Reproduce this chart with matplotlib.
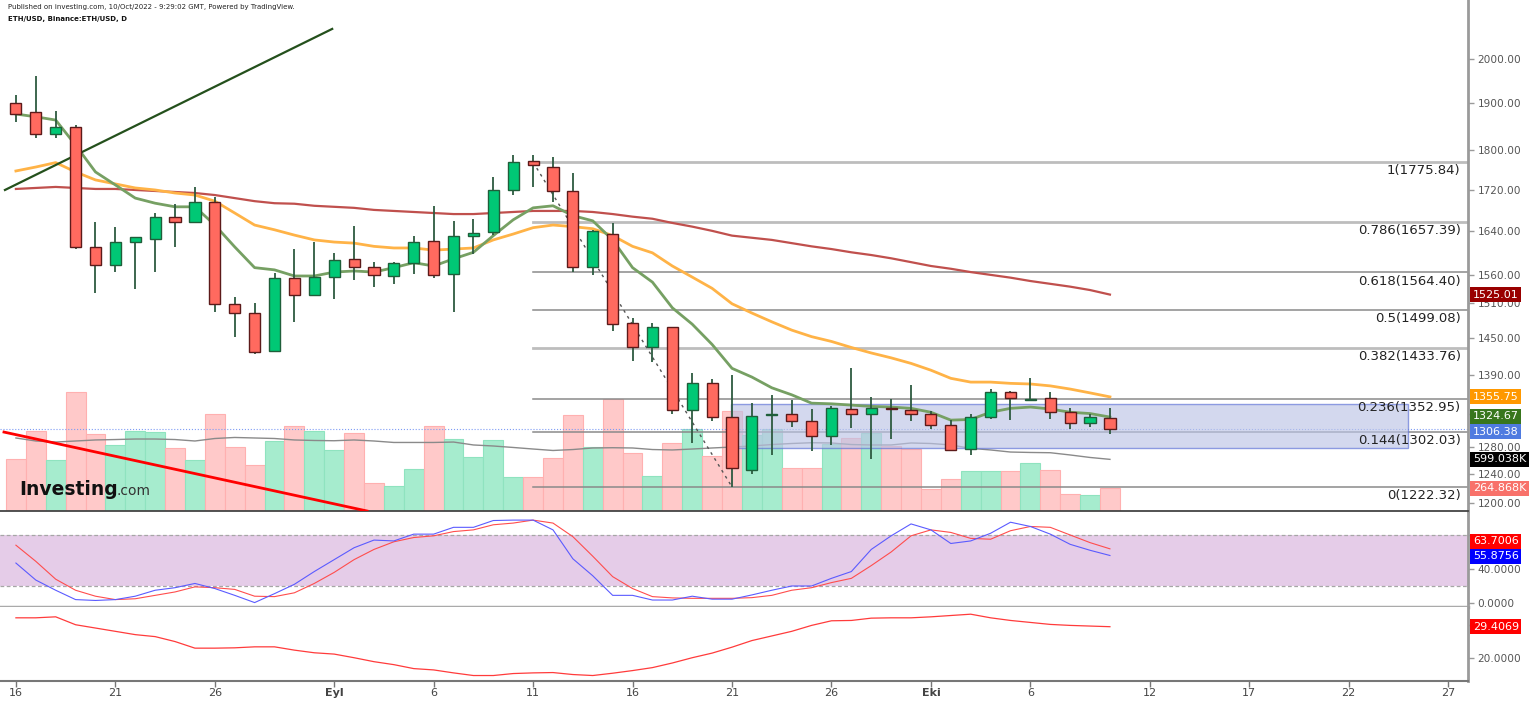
import numpy as np
import pandas as pd
import matplotlib
matplotlib.use("Agg")
import matplotlib.pyplot as plt
from matplotlib.patches import Rectangle
from matplotlib.ticker import FixedLocator, FixedFormatter, NullLocator

plt.rcParams['font.family'] = ['DejaVu Sans']

# ---- data (ETH/USD daily, 16 Aug - 10 Oct 2022) ----
start_date = "2022-08-16"
opens = [1900, 1881, 1835, 1849, 1610, 1577, 1620, 1626, 1668, 1657, 1696, 1509, 1493, 1430, 1554, 1524,
         1556, 1588, 1575, 1558, 1581, 1622, 1561, 1632, 1638, 1720, 1778, 1766, 1718, 1575, 1635, 1476,
         1435, 1470, 1335, 1377, 1325, 1247, 1328, 1329, 1318, 1296, 1337, 1329, 1339, 1336, 1329, 1313,
         1277, 1324, 1363, 1351, 1354, 1332, 1316, 1323]
highs = [1918, 1960, 1884, 1853, 1657, 1648, 1629, 1676, 1693, 1725, 1706, 1520, 1510, 1563, 1607, 1620,
         1599, 1650, 1583, 1583, 1631, 1689, 1659, 1663, 1746, 1790, 1790, 1786, 1754, 1642, 1655, 1484,
         1476, 1470, 1393, 1384, 1390, 1347, 1359, 1351, 1337, 1342, 1401, 1355, 1353, 1374, 1334, 1320,
         1330, 1368, 1365, 1386, 1364, 1338, 1330, 1339]
lows = [1859, 1825, 1825, 1607, 1527, 1566, 1534, 1566, 1610, 1657, 1494, 1452, 1425, 1427, 1478, 1522,
        1518, 1551, 1538, 1544, 1561, 1555, 1495, 1598, 1634, 1711, 1725, 1697, 1565, 1559, 1463, 1413,
        1411, 1329, 1286, 1318, 1222.32, 1241, 1268, 1310, 1274, 1283, 1308, 1263, 1292, 1319, 1306, 1275,
        1268, 1321, 1320, 1351, 1321, 1307, 1310, 1299]
closes = [1878, 1835, 1849, 1610, 1577, 1620, 1629, 1668, 1657, 1696, 1509, 1493, 1428, 1554, 1524, 1556,
          1586, 1575, 1560, 1581, 1620, 1559, 1631, 1637, 1720, 1777, 1770, 1718, 1575, 1640, 1474, 1435,
          1470, 1335, 1377, 1325, 1249, 1327, 1329, 1318, 1296, 1338, 1329, 1338, 1337, 1330, 1313, 1276,
          1324, 1363, 1354, 1353, 1332, 1316, 1324, 1306.38]
volume_k = [600, 928, 592, 1377, 893, 766, 928, 916, 731, 592, 1122, 742, 534, 812, 986, 928, 708, 905,
            321, 290, 491, 986, 832, 626, 824, 398, 398, 615, 1114, 742, 1303, 673, 410, 789, 951, 638,
            1164, 882, 951, 499, 499, 777, 847, 905, 754, 719, 259, 368, 468, 468, 468, 557, 479, 197,
            186, 264.868]
volume_ma_k = [847, 812, 800, 812, 824, 829, 835, 835, 829, 812, 841, 853, 847, 841, 824, 818, 815, 824,
               812, 795, 795, 795, 800, 766, 754, 737, 719, 702, 713, 731, 734, 731, 713, 708, 719, 731,
               742, 754, 771, 783, 792, 789, 771, 766, 766, 789, 783, 766, 727, 708, 684, 679, 676, 650,
               621, 599.038]
ma_green = [1877, 1871, 1864, 1811, 1756, 1730, 1704, 1694, 1687, 1687, 1652, 1611, 1573, 1569, 1558, 1558,
            1565, 1567, 1565, 1573, 1582, 1576, 1589, 1601, 1632, 1662, 1685, 1689, 1670, 1660, 1624, 1573,
            1547, 1502, 1474, 1440, 1401, 1387, 1370, 1359, 1346, 1345, 1343, 1341, 1340, 1338, 1332, 1320,
            1321, 1332, 1338, 1340, 1337, 1332, 1330, 1324.67]
ma_orange = [1758, 1766, 1775, 1756, 1740, 1732, 1724, 1720, 1714, 1710, 1698, 1675, 1652, 1643, 1633, 1624,
             1620, 1618, 1612, 1609, 1609, 1605, 1607, 1609, 1624, 1635, 1647, 1652, 1649, 1645, 1632, 1612,
             1600, 1576, 1556, 1536, 1509, 1493, 1478, 1464, 1453, 1445, 1435, 1426, 1418, 1409, 1398, 1385,
             1379, 1379, 1377, 1376, 1373, 1368, 1362, 1355.75]
ma_red = [1722, 1724, 1726, 1724, 1722, 1722, 1720, 1718, 1716, 1714, 1710, 1704, 1698, 1694, 1693, 1689,
          1687, 1685, 1681, 1679, 1677, 1675, 1673, 1673, 1675, 1677, 1679, 1679, 1679, 1677, 1673, 1668,
          1664, 1656, 1649, 1641, 1632, 1628, 1624, 1618, 1612, 1607, 1601, 1596, 1590, 1583, 1576, 1571,
          1565, 1560, 1555, 1549, 1544, 1539, 1533, 1525.01]
stoch_k = [47, 27, 15, 4, 3, 4, 8, 15, 18, 23, 17, 9, 0.5, 11, 22, 37, 51, 65, 74, 73, 81, 81, 89, 89, 97,
           97.5, 97.5, 86, 52, 32, 9, 9, 3.5, 3.5, 8, 4.5, 4.5, 9.5, 15, 20, 20, 29, 37, 63, 79, 93, 86, 70,
           73, 82, 95, 90, 81, 69, 62, 55.8756]
stoch_d = [68, 49, 28, 15, 8, 4, 5, 9, 13, 19, 18, 16, 8, 7.5, 12, 23, 36, 51, 63, 72, 77, 79, 84, 86, 92,
           94, 97.5, 94, 78, 55, 31, 17, 7.5, 6, 5.5, 5.5, 5.5, 6.3, 9, 15, 18, 24, 29, 44, 60, 79, 86, 83,
           76, 75, 85, 90, 89, 80, 71, 63.7006]
lower_osc = [32.1, 32.1, 32.4, 30.0, 29.0, 28.0, 27.0, 26.4, 24.9, 22.9, 22.9, 23.0, 23.3, 23.3, 22.3, 21.5,
             21.1, 20.0, 18.8, 17.9, 16.7, 16.3, 15.4, 14.6, 14.6, 15.2, 15.4, 15.5, 14.9, 14.6, 15.3, 16.1,
             17.0, 18.4, 20.0, 21.4, 23.2, 25.2, 26.6, 28.0, 29.8, 31.2, 31.3, 32.0, 32.1, 32.1, 32.4, 32.8,
             33.2, 32.1, 31.3, 30.7, 30.1, 29.8, 29.6, 29.4069]

fib_ratios = ["1", "0.786", "0.618", "0.5", "0.382", "0.236", "0.144", "0"]
fib_prices = [1775.84, 1657.39, 1564.40, 1499.08, 1433.76, 1352.95, 1302.03, 1222.32]
fib_start = "2022-09-11"
fib_end_low = "2022-09-21"
box_dates = ["2022-09-21", "2022-10-25"]
box_prices = [1278, 1345]
green_trend_x = [-0.55, 15.9]
green_trend_y = [1720, 2070]
red_trend_x = [-0.6, 17.65]
red_trend_y = [1302, 1189]

tick_dates = ["2022-08-16", "2022-08-21", "2022-08-26", "2022-09-01", "2022-09-06", "2022-09-11",
              "2022-09-16", "2022-09-21", "2022-09-26", "2022-10-01", "2022-10-06", "2022-10-12",
              "2022-10-17", "2022-10-22", "2022-10-27"]
tick_labels = ["16", "21", "26", "Eyl", "6", "11", "16", "21", "26", "Eki", "6", "12", "17", "22", "27"]
price_ticks = [1200, 1240, 1280, 1330, 1390, 1450, 1510, 1560, 1640, 1720, 1800, 1900, 2000]
hidden_price_ticks = [1330]   # covered by the value tags in the original

t0 = pd.Timestamp(start_date)
def day(d):
    return (pd.Timestamp(d) - t0).days

o = np.array(opens, float); h = np.array(highs, float)
l = np.array(lows, float); c = np.array(closes, float)
x = np.arange(len(o))
up = c >= o

W, H = 1539, 702
fig = plt.figure(figsize=(W / 100, H / 100), dpi=100)
left, width = 0.0, 1468 / W
ax = fig.add_axes([left, 1 - 511 / H, width, 511 / H])
axv = ax.twinx()
ax_st = fig.add_axes([left, 1 - 607 / H, width, 96 / H], sharex=ax)
ax_lo = fig.add_axes([left, 1 - 681 / H, width, 74 / H], sharex=ax)
ax.set_zorder(axv.get_zorder() + 1)
ax.patch.set_visible(False)

AXC = '#9a9a9a'
for a in (ax, axv, ax_st, ax_lo):
    for s in a.spines.values():
        s.set_visible(False)
for a in (ax, ax_st, ax_lo):
    a.spines['right'].set_visible(True)
    a.spines['right'].set_color(AXC)
    a.spines['right'].set_linewidth(2)
ax.spines['bottom'].set_visible(True)
ax.spines['bottom'].set_color('#444444')
ax.spines['bottom'].set_linewidth(1.3)
ax_st.spines['bottom'].set_visible(True)
ax_st.spines['bottom'].set_color('#aaaaaa')
ax_st.spines['bottom'].set_linewidth(2.5)
ax_lo.spines['bottom'].set_visible(True)
ax_lo.spines['bottom'].set_color('#777777')
ax_lo.spines['bottom'].set_linewidth(1.5)

# ---- volume ----
vol_up = np.array(['#a6ecce' if u else '#ffc9c9' for u in up])
vol_edge = np.array(['#8fe3bf' if u else '#ffb0b0' for u in up])
axv.bar(x, volume_k, width=1.0, color=vol_up, edgecolor=vol_edge, linewidth=0.8)
axv.plot(x, volume_ma_k, color='#8a8a8a', lw=1.0)
axv.set_ylim(0, 511 * 11.6)
axv.set_yticks([])

# ---- price panel ----
ax.set_yscale('log')
ax.set_ylim(1189, 2140)
ax.set_xlim(-0.8, 73.0)

xf0, xf1 = day(fib_start), day(fib_end_low)
for r, p in zip(fib_ratios, fib_prices):
    light = r in ("1", "0.786", "0.382")
    ax.plot([xf0, 73.0], [p, p], color='#bdbdbd' if light else '#8a8a8a', lw=2.0 if light else 1.1, zorder=2)
    ax.annotate(f"{r}({p:.2f})", xy=(0.995, p), xycoords=('axes fraction', 'data'),
                xytext=(0, -1.5), textcoords='offset points', ha='right', va='top',
                fontsize=9.5, color='#222222', zorder=8)
ax.plot([xf0, xf1], [fib_prices[0], fib_prices[-1]], color='#555555', lw=1, ls=(0, (2, 3)), zorder=3)

bx0, bx1 = day(box_dates[0]) - 0.05, day(box_dates[1])
ax.add_patch(Rectangle((bx0, box_prices[0]), bx1 - bx0, box_prices[1] - box_prices[0],
                       facecolor='#bcc4e6', alpha=0.65, edgecolor='#5b6fd6', lw=1.0, zorder=3))
ax.axhline(c[-1], color='#7f9cf5', ls=':', lw=0.8, zorder=2)

ax.plot(x, ma_red, color='#c0504d', lw=1.6, zorder=4)
ax.plot(x, ma_orange, color='#ffb347', lw=2.0, zorder=4)
ax.plot(x, ma_green, color='#76a063', lw=2.0, zorder=4)

ax.plot(green_trend_x, green_trend_y, color='#24501c', lw=1.6, zorder=4)
ax.plot(red_trend_x, red_trend_y, color='#ff0000', lw=2.0, zorder=4)

ax.vlines(x, l, h, color='#2d5a40', lw=1.3, zorder=5)
ax.bar(x, np.abs(c - o), bottom=np.minimum(o, c), width=0.56,
       color=np.where(up, '#00c875', '#ff6a5f'), edgecolor=np.where(up, '#1f5e3a', '#5c1a1a'),
       linewidth=1.0, zorder=6)

ax.yaxis.tick_right()
ax.yaxis.set_major_locator(FixedLocator(price_ticks))
ax.yaxis.set_major_formatter(FixedFormatter(
    ["" if v in hidden_price_ticks else f"{v:.2f}" for v in price_ticks]))
ax.yaxis.set_minor_locator(NullLocator())
ax.tick_params(axis='y', which='major', direction='out', length=4, width=1, color=AXC,
               labelsize=7.6, labelcolor='#555555', pad=3)
ax.tick_params(axis='x', which='both', bottom=False, labelbottom=False)

def tag(a, y, text, color, ytrans=None, dy=0):
    a.annotate(text, xy=(1.0, y), xycoords=(a.transAxes, ytrans if ytrans is not None else a.transData),
               xytext=(3.5, dy), textcoords='offset points', ha='left', va='center', fontsize=8,
               color='white', zorder=20, annotation_clip=False,
               bbox=dict(boxstyle='square,pad=0.22', fc=color, ec='none'))

tag(ax, ma_red[-1], f"{ma_red[-1]:.2f}", '#990000')
tag(ax, ma_orange[-1], f"{ma_orange[-1]:.2f}", '#ff9800')
tag(ax, ma_green[-1], f"{ma_green[-1]:.2f}", '#38761d', dy=0.5)
tag(ax, c[-1], f"{c[-1]:.2f}", '#4f7be0', dy=-2)
tag(ax, volume_ma_k[-1], f"{volume_ma_k[-1]:.3f}K", '#000000', ytrans=axv.transData)
tag(ax, volume_k[-1], f"{volume_k[-1]:.3f}K", '#f8716a', ytrans=axv.transData)

# ---- stochastic panel ----
ax_st.axhspan(20, 80, color='#e5cce8', lw=0, zorder=1)
for lvl in (20, 80):
    ax_st.axhline(lvl, color='#a6a6a6', lw=0.9, ls=(0, (3, 2)), zorder=2)
ax_st.plot(x, stoch_d, color='#ff4d4d', lw=0.8, zorder=3)
ax_st.plot(x, stoch_k, color='#5b5bff', lw=0.8, zorder=3)
ax_st.set_ylim(-4.7, 108.2)
ax_st.yaxis.tick_right()
ax_st.set_yticks([0, 40, 80])
ax_st.set_yticklabels(["0.0000", "40.0000", ""])
ax_st.tick_params(axis='y', direction='out', length=4, width=1, color=AXC,
                  labelsize=7.6, labelcolor='#555555', pad=3)
ax_st.tick_params(axis='x', which='both', bottom=False, labelbottom=False)
tag(ax_st, stoch_d[-1], f"{stoch_d[-1]:.4f}", '#ff0000', dy=5.5)
tag(ax_st, stoch_k[-1], f"{stoch_k[-1]:.4f}", '#0000ff', dy=-0.5)

# ---- lower oscillator panel ----
ax_lo.plot(x, lower_osc, color='#ff3b3b', lw=0.9)
ax_lo.set_ylim(12.94, 35.38)
ax_lo.yaxis.tick_right()
ax_lo.set_yticks([20, 30])
ax_lo.set_yticklabels(["20.0000", ""])
ax_lo.tick_params(axis='y', direction='out', length=4, width=1, color=AXC,
                  labelsize=7.6, labelcolor='#555555', pad=3)
tag(ax_lo, lower_osc[-1], f"{lower_osc[-1]:.4f}", '#ff0000')

ax_lo.set_xticks([day(d) for d in tick_dates])
ax_lo.set_xticklabels(tick_labels)
ax_lo.tick_params(axis='x', direction='out', length=4, width=1, color='#777777',
                  labelsize=8, labelcolor='#444444', pad=1)
for lab in ax_lo.get_xticklabels():
    if lab.get_text() in ("Eyl", "Eki"):
        lab.set_fontweight('bold')

# ---- header and logo ----
fig.text(8 / W, 1 - 7 / H, "Published on investing.com, 10/Oct/2022 - 9:29:02 GMT, Powered by TradingView.",
         fontsize=5, color='#222222', va='center', ha='left')
fig.text(8 / W, 1 - 19 / H, "ETH/USD, Binance:ETH/USD, D", fontsize=5, fontweight='bold',
         color='#111111', va='center', ha='left')
fig.text(19 / W, 1 - 495 / H, "Investing", fontsize=13.5, fontweight='bold', color='#111111',
         va='baseline', ha='left', zorder=30)
fig.text(117 / W, 1 - 495 / H, ".com", fontsize=10, color='#333333', va='baseline', ha='left', zorder=30)

fig.savefig("out.png", dpi=100, facecolor='white')
